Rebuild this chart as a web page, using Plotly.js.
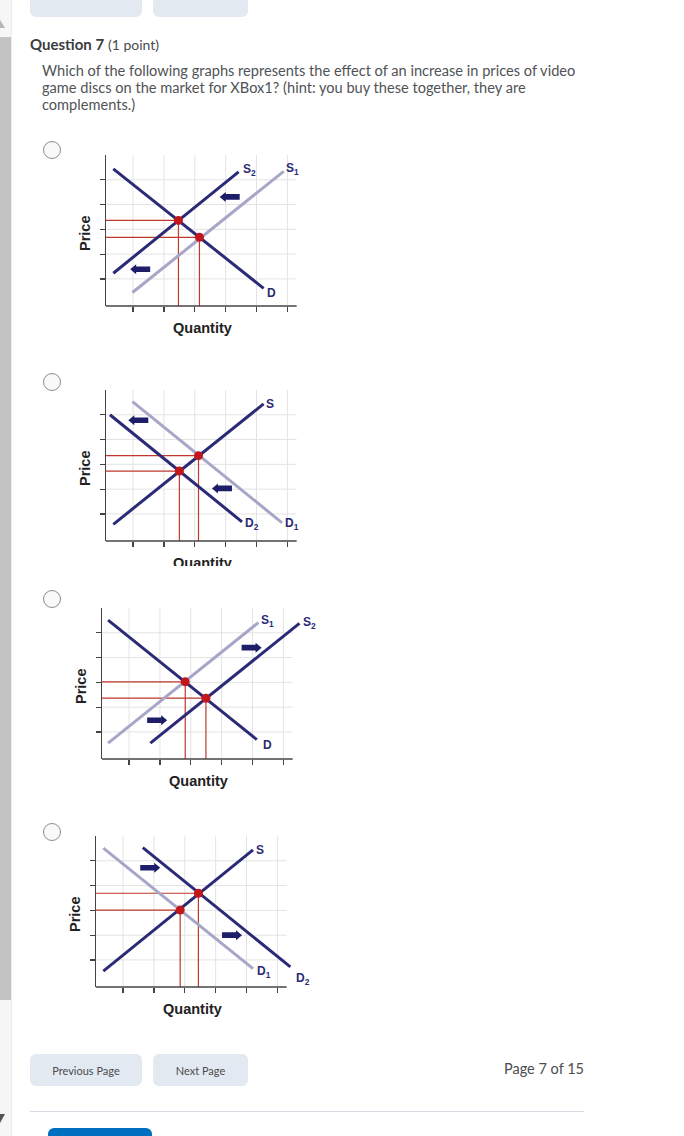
<!DOCTYPE html>
<html><head><meta charset="utf-8">
<script src="https://cdn.plot.ly/plotly-3.0.1.min.js"></script>
<style>
html,body{margin:0;padding:0;background:#fff;width:684px;height:1136px;overflow:hidden;font-family:Lato,'Open Sans',sans-serif;}
.abs{position:absolute;}
.gbtn{position:absolute;background:#e3e9f1;border-radius:6px;}
.radio{position:absolute;width:18px;height:18px;box-sizing:border-box;border:1.5px solid #8d8d8d;border-radius:50%;background:#f8f9fb;left:43px;}
.btn{position:absolute;top:1054px;height:32px;background:#e3e9f1;border-radius:6px;font-size:11px;color:#494c4e;display:flex;align-items:center;justify-content:center;}
</style></head><body>
<!-- left scroll strip -->
<div class="abs" style="left:0;top:0;width:11px;height:1136px;background:#f6f6f6;border-right:1px solid #ececec;"></div>
<div class="abs" style="left:-5px;top:20px;width:0;height:0;border-left:5px solid transparent;border-right:5px solid transparent;border-bottom:8px solid #b5b5b5;"></div>
<div class="abs" style="left:0;top:37px;width:11px;height:963px;background:#c3c3c3;"></div>
<div class="abs" style="left:-5px;top:1114px;width:0;height:0;border-left:5px solid transparent;border-right:5px solid transparent;border-top:9px solid #555;"></div>
<!-- top buttons (cut) -->
<div class="gbtn" style="left:30px;top:-20px;width:112px;height:37px;"></div>
<div class="gbtn" style="left:153px;top:-20px;width:95px;height:37px;"></div>
<!-- question -->
<div class="abs" style="left:30px;top:35px;font-size:15px;line-height:18px;color:#3a3d3f;"><b>Question 7</b> <span style="font-size:14px;color:#494c4e;">(1 point)</span></div>
<div class="abs" style="left:42px;top:62px;width:620px;font-size:14.6px;line-height:17px;color:#505356;white-space:nowrap;">Which of the following graphs represents the effect of an increase in prices of video<br>game discs on the market for XBox1? (hint: you buy these together, they are<br>complements.)</div>
<div class="radio" style="top:141px;"></div>
<div class="radio" style="top:373px;"></div>
<div class="radio" style="top:590px;"></div>
<div class="radio" style="top:823px;"></div>
<div id="g1" class="abs" style="left:66px;top:130px;"></div>
<div id="g2" class="abs" style="left:66px;top:365px;"></div>
<div id="g3" class="abs" style="left:62px;top:583px;"></div>
<div id="g4" class="abs" style="left:56px;top:811px;"></div>
<!-- bottom -->
<div class="btn" style="left:30px;width:112px;">Previous Page</div>
<div class="btn" style="left:153px;width:95px;">Next Page</div>
<div class="abs" style="right:100px;top:1060px;font-size:14.5px;line-height:18px;color:#494c4e;">Page 7 of 15</div>
<div class="abs" style="left:30px;top:1111px;width:554px;height:1px;background:#d6dbe3;"></div>
<div class="abs" style="left:48px;top:1128px;width:104px;height:20px;background:#006fbf;border-radius:6px;"></div>
<script>
// ---- Graph 1: supply decreases (S1 -> S2) ----
const g1_Dx = [0.36, 5.23], g1_Dy = [5.44, 0.62];
const g1_S1x = [0.98, 5.88], g1_S1y = [0.45, 5.34];
const g1_S2x = [0.36, 4.42], g1_S2y = [1.23, 5.32];
const g1_eqX = [2.47, 3.15], g1_eqY = [3.36, 2.68];
const g1_arrowX = [4.13, 1.23], g1_arrowY = [4.31, 1.39], g1_arrowDir = [-1, -1];
const g1_labels = ['S<sub>2</sub>', 'S<sub>1</sub>', 'D'], g1_labelX = [4.78, 6.15, 5.50], g1_labelY = [5.39, 5.44, 0.42];
// ---- Graph 2: demand decreases (D1 -> D2) ----
const g2_Sx = [0.36, 5.23], g2_Sy = [0.58, 5.44];
const g2_D1x = [0.98, 5.83], g2_D1y = [5.53, 0.64];
const g2_D2x = [0.25, 4.53], g2_D2y = [5.00, 0.68];
const g2_eqX = [3.12, 2.50], g2_eqY = [3.35, 2.73];
const g2_arrowX = [1.17, 3.88], g2_arrowY = [4.78, 2.03], g2_arrowDir = [-1, -1];
const g2_labels = ['S', 'D<sub>2</sub>', 'D<sub>1</sub>'], g2_labelX = [5.45, 4.85, 6.15], g2_labelY = [5.44, 0.58, 0.58];
// ---- Graph 3: supply increases (S1 -> S2) ----
const g3_Dx = [0.32, 5.14], g3_Dy = [5.51, 0.69];
const g3_S1x = [0.32, 5.19], g3_S1y = [0.55, 5.41];
const g3_S2x = [1.69, 6.52], g3_S2y = [0.55, 5.38];
const g3_eqX = [2.82, 3.49], g3_eqY = [3.02, 2.36];
const g3_arrowX = [4.97, 1.91], g3_arrowY = [4.40, 1.47], g3_arrowDir = [1, 1];
const g3_labels = ['S<sub>1</sub>', 'S<sub>2</sub>', 'D'], g3_labelX = [5.47, 6.84, 5.47], g3_labelY = [5.48, 5.38, 0.49];
// ---- Graph 4: demand increases (D1 -> D2) ----
const g4_Sx = [0.36, 5.21], g4_Sy = [0.55, 5.44];
const g4_D1x = [0.36, 5.21], g4_D1y = [5.51, 0.65];
const g4_D2x = [1.64, 6.42], g4_D2y = [5.53, 0.72];
const g4_eqX = [2.85, 3.44], g4_eqY = [3.01, 3.69];
const g4_arrowX = [1.88, 4.53], g4_arrowY = [4.72, 2.00], g4_arrowDir = [1, 1];
const g4_labels = ['S', 'D<sub>1</sub>', 'D<sub>2</sub>'], g4_labelX = [5.45, 5.58, 6.83], g4_labelY = [5.44, 0.51, 0.25];

const xTicks = [1, 2, 3, 4, 5, 6];
const yTicks = [1, 2, 3, 4, 5];
const xTitle = 'Quantity', yTitle = 'Price';

const NAVY = '#2a2a76', LAV = '#a6a6c9', RED = '#c2161d', REDL = '#c0392b', AX = '#444', GRID = '#e3e3e3';
const X0 = 0.123, X1 = 6.3, XMAX = 6.7, Y0 = -0.093, Y1 = 6.0;
const xp = v => (v - X0) / (XMAX - X0);   // data x -> paper fraction (same scale as the x axis)

function arrowPath(dir) {
  const pts = [[-10, 0], [-4, 5], [-4, 2.8], [10, 2.8], [10, -2.8], [-4, -2.8], [-4, -5]];
  return 'M' + pts.map(p => (-dir * p[0]) + ',' + p[1]).join(' L') + ' Z';
}

function drawGraph(id, curves, eqX, eqY, arX, arY, arDir, lbT, lbX, lbY, bm) {
  const traces = [];
  eqX.forEach((ex, i) => traces.push({x: [X0, ex, ex], y: [eqY[i], eqY[i], Y0], mode: 'lines',
    line: {color: REDL, width: 1.2}, hoverinfo: 'skip'}));
  curves.forEach(c => traces.push({x: c[0], y: c[1], mode: 'lines', line: {color: c[2], width: 3}, hoverinfo: 'skip'}));
  traces.push({x: eqX, y: eqY, mode: 'markers', marker: {color: RED, size: 9}, cliponaxis: false, hoverinfo: 'skip'});
  const shapes = [];
  // grid lines (axis ends at X1, plot area extends to XMAX so long curves are not clipped)
  xTicks.forEach(t => shapes.push({type: 'line', xref: 'x', yref: 'paper', x0: t, x1: t, y0: 0, y1: 1,
    line: {color: GRID, width: 1}, layer: 'below'}));
  yTicks.forEach(t => shapes.push({type: 'line', xref: 'paper', yref: 'y', x0: 0, x1: xp(X1), y0: t, y1: t,
    line: {color: GRID, width: 1}, layer: 'below'}));
  shapes.push({type: 'line', xref: 'paper', yref: 'paper', x0: 0, x1: xp(X1), y0: 0, y1: 0,
    line: {color: AX, width: 1.5}, layer: 'above'});
  arX.forEach((ax, i) => shapes.push({type: 'path', xref: 'x', yref: 'y', xsizemode: 'pixel', ysizemode: 'pixel',
    xanchor: ax, yanchor: arY[i], path: arrowPath(arDir[i]), fillcolor: '#1d1d6a', line: {width: 0}, layer: 'above'}));
  const annotations = lbT.map((t, i) => ({x: xp(lbX[i]), y: lbY[i], xref: 'paper', yref: 'y', text: t, showarrow: false,
    xanchor: 'center', yanchor: 'middle', font: {family: 'Liberation Sans, Arial', size: 12, color: NAVY, weight: 700}}));
  annotations.push({xref: 'paper', yref: 'paper', x: xp(X0 + 97 / 30.9), y: 0, yshift: -22, yanchor: 'middle', xanchor: 'center',
    text: xTitle, showarrow: false, font: {family: 'Liberation Sans, Arial', size: 14.5, color: '#222', weight: 700}});
  annotations.push({xref: 'paper', yref: 'paper', x: 0, xshift: -21, y: 0.477, xanchor: 'center', yanchor: 'middle',
    textangle: -90, text: yTitle, showarrow: false, font: {family: 'Liberation Sans, Arial', size: 14.5, color: '#222', weight: 700}});
  const axisCommon = {ticks: 'outside', ticklen: 5, tickwidth: 1.2, tickcolor: AX, showticklabels: false,
    showgrid: false, zeroline: false, fixedrange: true};
  const layout = {width: 276, height: 176 + bm, margin: {l: 40, r: 33, t: 25, b: bm},
    paper_bgcolor: 'rgba(0,0,0,0)', plot_bgcolor: 'rgba(0,0,0,0)', showlegend: false,
    xaxis: Object.assign({range: [X0, XMAX], tickvals: xTicks, showline: false}, axisCommon),
    yaxis: Object.assign({range: [Y0, Y1], tickvals: yTicks, showline: true, linecolor: AX, linewidth: 1.5}, axisCommon),
    shapes: shapes, annotations: annotations};
  Plotly.newPlot(id, traces, layout, {staticPlot: true, displayModeBar: false});
}

drawGraph('g1', [[g1_Dx, g1_Dy, NAVY], [g1_S1x, g1_S1y, LAV], [g1_S2x, g1_S2y, NAVY]],
  g1_eqX, g1_eqY, g1_arrowX, g1_arrowY, g1_arrowDir, g1_labels, g1_labelX, g1_labelY, 30);
drawGraph('g2', [[g2_D1x, g2_D1y, LAV], [g2_Sx, g2_Sy, NAVY], [g2_D2x, g2_D2y, NAVY]],
  g2_eqX, g2_eqY, g2_arrowX, g2_arrowY, g2_arrowDir, g2_labels, g2_labelX, g2_labelY, 25);
drawGraph('g3', [[g3_S1x, g3_S1y, LAV], [g3_Dx, g3_Dy, NAVY], [g3_S2x, g3_S2y, NAVY]],
  g3_eqX, g3_eqY, g3_arrowX, g3_arrowY, g3_arrowDir, g3_labels, g3_labelX, g3_labelY, 30);
drawGraph('g4', [[g4_D1x, g4_D1y, LAV], [g4_Sx, g4_Sy, NAVY], [g4_D2x, g4_D2y, NAVY]],
  g4_eqX, g4_eqY, g4_arrowX, g4_arrowY, g4_arrowDir, g4_labels, g4_labelX, g4_labelY, 30);
</script>
</body></html>
